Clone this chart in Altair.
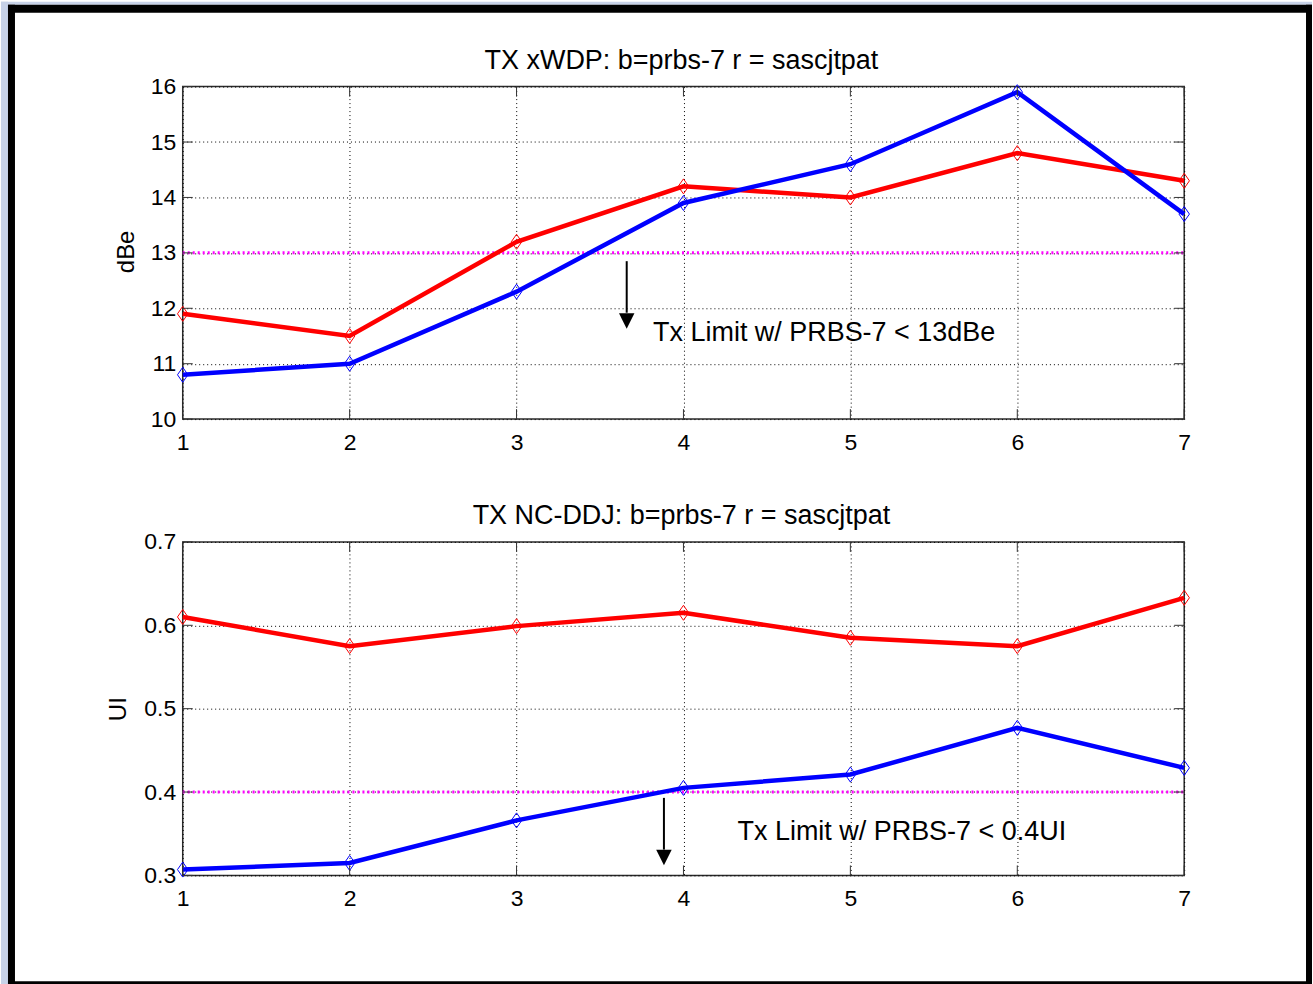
import altair as alt
import pandas as pd

# ---------------- data ----------------
x_vals = [1, 2, 3, 4, 5, 6, 7]
xwdp_red = [11.9, 11.5, 13.2, 14.2, 14.0, 14.8, 14.3]
xwdp_blue = [10.8, 11.0, 12.3, 13.9, 14.6, 15.9, 13.7]
ddj_red = [0.610, 0.575, 0.599, 0.615, 0.585, 0.575, 0.633]
ddj_blue = [0.307, 0.315, 0.366, 0.405, 0.421, 0.477, 0.429]

x_ticks = [1, 2, 3, 4, 5, 6, 7]
y_ticks_top = [10, 11, 12, 13, 14, 15, 16]
y_ticks_bot = [0.3, 0.4, 0.5, 0.6, 0.7]

limit_top = 13
limit_bot = 0.4

title_top = "TX xWDP: b=prbs-7 r = sascjtpat"
title_bot = "TX NC-DDJ: b=prbs-7 r = sascjtpat"
ytitle_top = "dBe"
ytitle_bot = "UI"

note_top = "Tx Limit w/ PRBS-7 < 13dBe"
note_bot = "Tx Limit w/ PRBS-7 < 0.4UI"
# arrow: x, shaft start, shaft end, head centre ; note: x, y
arrow_top = [3.66, 12.85, 11.92, 11.77]
arrow_bot = [3.883, 0.393, 0.331, 0.3216]
note_top_pos = [3.818, 11.55]
note_bot_pos = [4.324, 0.3515]

FONT = "Liberation Sans"
W = 1003
H_TOP = 333
H_BOT = 334
DIAMOND = "M0,-1L0.7,0L0,1L-0.7,0Z"
HEAD = "M-1,-1L1,-1L0,1Z"


def panel(red, blue, y_dom, y_ticks, y_fmt, ytitle, ytitle_xy, title, limit,
          arrow, note, note_pos, height, frame=False):
    xs = alt.Scale(domain=[1, 7], nice=False, zero=False)
    ys = alt.Scale(domain=y_dom, nice=False, zero=False)
    x_axis = alt.Axis(values=x_ticks, title="", grid=True, gridDash=[1, 3],
                      gridColor="black", gridWidth=1, gridOpacity=1,
                      domain=False, ticks=False, tickSize=0, labelPadding=12,
                      labelFlush=False, labelOverlap=False, format="d",
                      labelFontSize=23, labelFont=FONT, labelColor="black")
    y_axis = alt.Axis(values=y_ticks, title=ytitle, titleX=ytitle_xy[0],
                      titleY=ytitle_xy[1], titleAngle=270, titleAlign="center",
                      titleBaseline="middle", titleFontSize=24,
                      titleFontWeight="normal", titleFont=FONT,
                      titleColor="black", grid=True, gridDash=[1, 3],
                      gridColor="black", gridWidth=1, gridOpacity=1,
                      domain=False, ticks=False, tickSize=0, labelPadding=7,
                      labelFlush=False, labelOverlap=False, format=y_fmt,
                      labelFontSize=23, labelFont=FONT, labelColor="black",
                      labelBaseline="middle")

    def X(f):
        return alt.X(f, type="quantitative", scale=xs, axis=x_axis)

    def Y(f):
        return alt.Y(f, type="quantitative", scale=ys, axis=y_axis)

    n = len(x_vals)
    line_df = pd.DataFrame({
        "x": x_vals + x_vals,
        "y": red + blue,
        "s": ["a_red"] * n + ["b_blue"] * n,
    })
    color = alt.Color("s:N", scale=alt.Scale(domain=["a_red", "b_blue"],
                                             range=["#ff0000", "#0000ff"]),
                      legend=None)

    layers = []
    one = pd.DataFrame({"a": [0]})
    if frame:
        strips = [
            (-182, -175, -85, 899, "#c7d2e8"),
            (-182, 1131, -85, -82, "#c7d2e8"),
            (-175, -168, -82, 899, "#000000"),
            (-175, 1131, -82, -74, "#000000"),
            (1125, 1131, -82, 899, "#000000"),
            (-175, 1131, 896, 899, "#000000"),
        ]
        for x1, x2, y1, y2, c in strips:
            layers.append(alt.Chart(one).mark_rect(color=c).encode(
                x=alt.value(x1), x2=alt.value(x2),
                y=alt.value(y1), y2=alt.value(y2)))

    # panel title
    title_df = pd.DataFrame({"t": [title]})
    layers.append(alt.Chart(title_df).mark_text(
        align="center", baseline="alphabetic", fontSize=27, font=FONT,
        color="black").encode(x=alt.value(W / 2 - 2), y=alt.value(-17.7),
                              text="t:N"))

    lim_df = pd.DataFrame({"x": [1], "x2": [7], "y": [limit]})
    layers.append(alt.Chart(lim_df).mark_rule(
        color="#ff00ff", strokeWidth=3, strokeDash=[2, 3]).encode(
        x=X("x"), x2="x2", y=Y("y")))

    layers.append(alt.Chart(line_df).mark_line(strokeWidth=4.5).encode(
        x=X("x"), y=Y("y"), color=color, detail="s:N"))
    layers.append(alt.Chart(line_df).mark_point(
        shape=DIAMOND, size=225, filled=False, strokeWidth=1,
        opacity=1).encode(x=X("x"), y=Y("y"), color=color))

    # inward ticks on all four sides
    xt = pd.DataFrame({"v": x_ticks})
    yt = pd.DataFrame({"v": y_ticks})
    tick_c = "#333333"
    layers.append(alt.Chart(xt).mark_rule(color=tick_c, strokeWidth=1).encode(
        x=X("v"), y=alt.value(height), y2=alt.value(height - 10)))
    layers.append(alt.Chart(xt).mark_rule(color=tick_c, strokeWidth=1).encode(
        x=X("v"), y=alt.value(0), y2=alt.value(10)))
    layers.append(alt.Chart(yt).mark_rule(color=tick_c, strokeWidth=1).encode(
        y=Y("v"), x=alt.value(0), x2=alt.value(10)))
    layers.append(alt.Chart(yt).mark_rule(color=tick_c, strokeWidth=1).encode(
        y=Y("v"), x=alt.value(W), x2=alt.value(W - 10)))

    # arrow + annotation
    arr_df = pd.DataFrame({"x": [arrow[0]], "y1": [arrow[1]],
                           "y2": [arrow[2]], "h": [arrow[3]]})
    layers.append(alt.Chart(arr_df).mark_rule(color="black", strokeWidth=2).encode(
        x=X("x"), y=Y("y1"), y2="y2"))
    layers.append(alt.Chart(arr_df).mark_point(
        shape=HEAD, size=240, filled=True, color="black", opacity=1,
        strokeWidth=0).encode(x=X("x"), y=Y("h")))
    note_df = pd.DataFrame({"x": [note_pos[0]], "y": [note_pos[1]],
                            "t": [note]})
    layers.append(alt.Chart(note_df).mark_text(
        align="left", baseline="middle", fontSize=27, font=FONT,
        color="black").encode(x=X("x"), y=Y("y"), text="t:N"))

    return alt.layer(*layers).properties(width=W, height=height)


top = panel(xwdp_red, xwdp_blue, [10, 16], y_ticks_top, "d", ytitle_top,
            (-56, 165), title_top, limit_top, arrow_top, note_top,
            note_top_pos, H_TOP, frame=True)
bot = panel(ddj_red, ddj_blue, [0.3, 0.7], y_ticks_bot, ".1f", ytitle_bot,
            (-64, 167), title_bot, limit_bot, arrow_bot, note_bot,
            note_bot_pos, H_BOT)

chart = alt.vconcat(top, bot, spacing=123, bounds="flush").properties(
    padding=0, background="white"
).configure_view(stroke="#2b2b2b", strokeWidth=1.5)

chart.save("out.html", embed_options={"renderer": "svg", "actions": False})
